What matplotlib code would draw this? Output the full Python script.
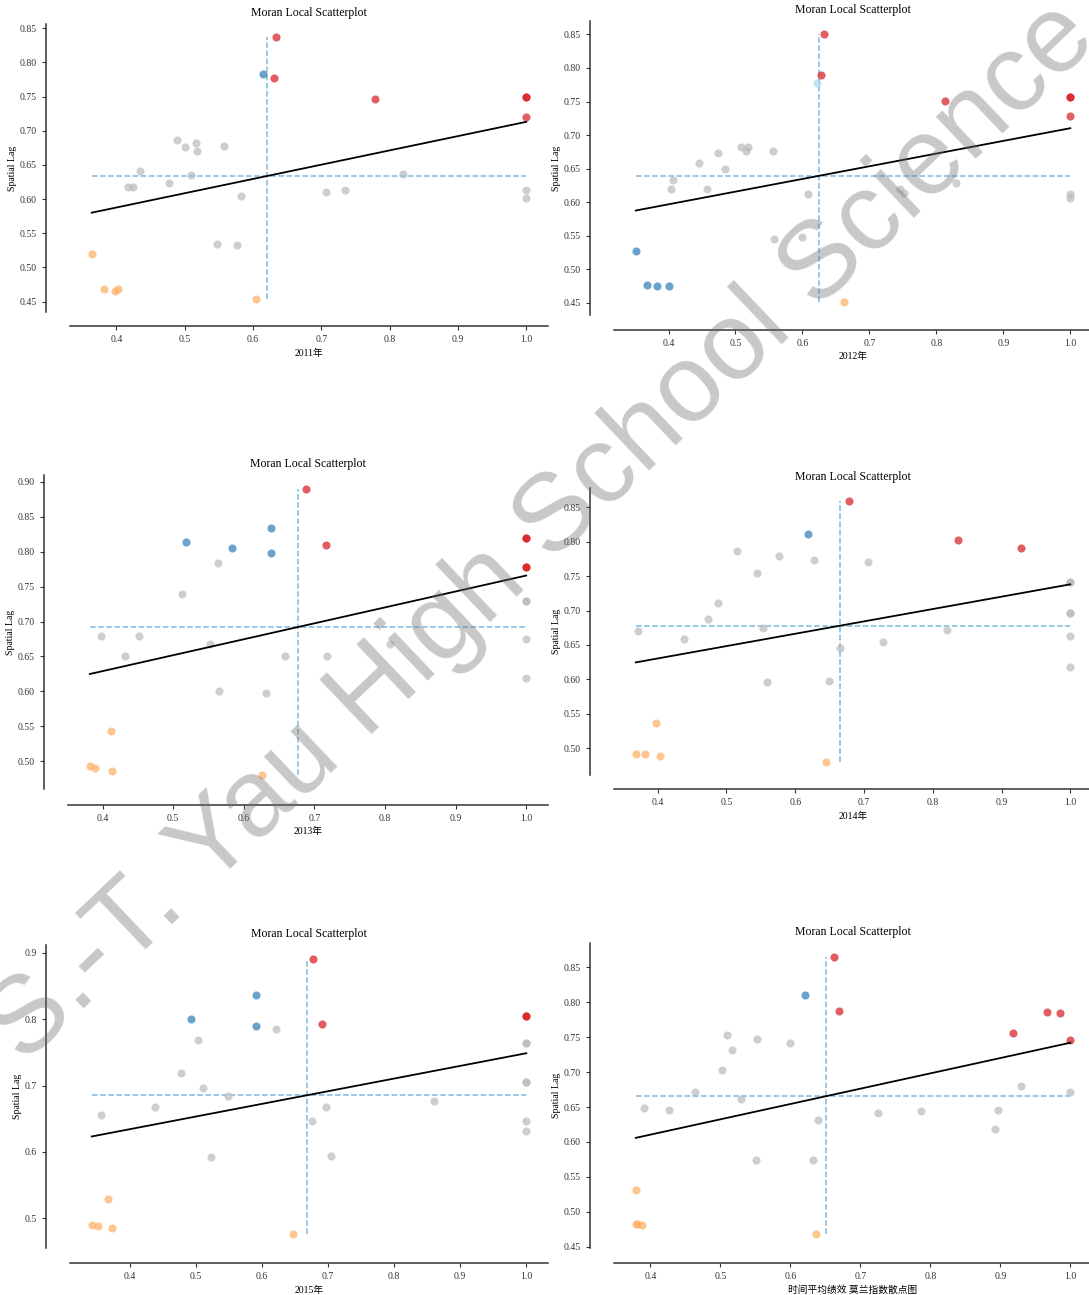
import numpy as np
import matplotlib
matplotlib.use("Agg")
import matplotlib.pyplot as plt
from matplotlib.ticker import MultipleLocator

plt.rcParams["font.family"] = ["Liberation Serif", "Noto Sans CJK SC"]

W, H = 1089, 1295

x_2011 = [0.489, 0.500, 0.517, 0.518, 0.558, 0.435, 0.417, 0.424, 0.477, 0.509, 0.583, 0.548,
          0.576, 0.707, 0.734, 0.820, 1.0, 1.0,
          0.634, 0.631, 0.778, 1.0, 1.0, 1.0,
          0.615,
          0.364, 0.382, 0.398, 0.403, 0.605]
y_2011 = [0.686, 0.676, 0.682, 0.671, 0.677, 0.641, 0.618, 0.618, 0.623, 0.635, 0.605, 0.534,
          0.533, 0.610, 0.613, 0.636, 0.614, 0.601,
          0.837, 0.777, 0.747, 0.750, 0.750, 0.720,
          0.783,
          0.519, 0.469, 0.466, 0.469, 0.454]
g_2011 = ["grey"] * 18 + ["red"] * 6 + ["blue"] + ["orange"] * 5

x_2012 = [0.508, 0.518, 0.516, 0.556, 0.474, 0.446, 0.485, 0.407, 0.403, 0.458, 0.608, 0.557,
          0.599, 0.746, 0.751, 0.830, 1.0, 1.0,
          0.632, 0.627, 0.813, 1.0, 1.0, 1.0,
          0.622,
          0.351, 0.368, 0.383, 0.400,
          0.662]
y_2012 = [0.683, 0.682, 0.677, 0.677, 0.673, 0.658, 0.649, 0.633, 0.620, 0.620, 0.613, 0.546,
          0.548, 0.619, 0.614, 0.629, 0.613, 0.607,
          0.850, 0.790, 0.751, 0.756, 0.756, 0.728,
          0.778,
          0.528, 0.477, 0.475, 0.475,
          0.452]
g_2012 = ["grey"] * 18 + ["red"] * 6 + ["cyan"] + ["blue"] * 4 + ["orange"]

x_2013 = [0.563, 0.512, 0.398, 0.452, 0.432, 0.552, 0.565, 0.631, 0.659, 0.718, 0.807,
          1.0, 1.0, 1.0, 1.0,
          0.688, 0.716, 1.0, 1.0, 1.0, 1.0,
          0.518, 0.584, 0.639, 0.639,
          0.412, 0.382, 0.390, 0.413, 0.626]
y_2013 = [0.784, 0.739, 0.679, 0.679, 0.651, 0.668, 0.601, 0.598, 0.650, 0.651, 0.668,
          0.729, 0.729, 0.675, 0.619,
          0.889, 0.810, 0.820, 0.820, 0.778, 0.778,
          0.814, 0.805, 0.834, 0.798,
          0.543, 0.493, 0.491, 0.487, 0.481]
g_2013 = ["grey"] * 15 + ["red"] * 6 + ["blue"] * 4 + ["orange"] * 5

x_2014 = [0.515, 0.577, 0.628, 0.706, 0.544, 0.488, 0.473, 0.372, 0.438, 0.553, 0.665, 0.728,
          0.820, 0.559, 0.649, 1.0, 1.0, 1.0, 1.0, 1.0, 1.0,
          0.678, 0.837, 0.928,
          0.619,
          0.397, 0.368, 0.381, 0.403, 0.645]
y_2014 = [0.787, 0.779, 0.773, 0.771, 0.754, 0.711, 0.688, 0.670, 0.659, 0.675, 0.645, 0.654,
          0.671, 0.596, 0.598, 0.741, 0.741, 0.697, 0.697, 0.663, 0.618,
          0.859, 0.803, 0.791,
          0.811,
          0.536, 0.492, 0.492, 0.489, 0.480]
g_2014 = ["grey"] * 21 + ["red"] * 3 + ["blue"] + ["orange"] * 5

x_2015 = [0.621, 0.503, 0.477, 0.511, 0.548, 0.438, 0.356, 0.523, 0.697, 0.676, 0.704, 0.861,
          1.0, 1.0, 1.0, 1.0, 1.0, 1.0,
          0.677, 0.691, 1.0, 1.0,
          0.590, 0.493, 0.591,
          0.367, 0.342, 0.351, 0.372, 0.647]
y_2015 = [0.785, 0.769, 0.719, 0.697, 0.685, 0.668, 0.655, 0.592, 0.667, 0.646, 0.594, 0.676,
          0.764, 0.764, 0.706, 0.706, 0.647, 0.631,
          0.891, 0.793, 0.805, 0.805,
          0.837, 0.801, 0.789,
          0.529, 0.490, 0.488, 0.486, 0.476]
g_2015 = ["grey"] * 18 + ["red"] * 4 + ["blue"] * 3 + ["orange"] * 5

x_avg = [0.510, 0.517, 0.552, 0.600, 0.502, 0.464, 0.530, 0.391, 0.427, 0.639, 0.551, 0.632,
         0.725, 0.787, 0.897, 0.892, 0.930, 1.0,
         0.662, 0.670, 0.967, 0.986, 0.918, 1.0,
         0.621,
         0.379, 0.379, 0.381, 0.388, 0.637]
y_avg = [0.753, 0.731, 0.748, 0.742, 0.703, 0.672, 0.662, 0.649, 0.646, 0.632, 0.574, 0.574,
         0.641, 0.645, 0.646, 0.618, 0.680, 0.671,
         0.865, 0.787, 0.786, 0.784, 0.756, 0.746,
         0.810,
         0.531, 0.483, 0.482, 0.481, 0.468]
g_avg = ["grey"] * 18 + ["red"] * 6 + ["blue"] + ["orange"] * 5

x_labels = ["2011年", "2012年", "2013年", "2014年", "2015年", "时间平均绩效 莫兰指数散点图"]

# --- styling / layout ---

colour_map = {
    "grey": "#bababa",
    "red": "#d7191c",
    "blue": "#2c7bb6",
    "cyan": "#abd9e9",
    "orange": "#fdae61",
}

# axes boxes in pixels: left, top, right, bottom
boxes = [
    (70, 24, 548, 312),
    (614, 21, 1092, 315),
    (68, 475, 548, 789),
    (614, 488, 1092, 775),
    (70, 945, 548, 1248),
    (614, 943, 1092, 1248),
]
y_steps = [0.05, 0.05, 0.05, 0.05, 0.1, 0.05]

panels = [
    (x_2011, y_2011, g_2011),
    (x_2012, y_2012, g_2012),
    (x_2013, y_2013, g_2013),
    (x_2014, y_2014, g_2014),
    (x_2015, y_2015, g_2015),
    (x_avg, y_avg, g_avg),
]

fig = plt.figure(figsize=(W / 100, H / 100), dpi=100)

for i, (xs, ys, gs) in enumerate(panels):
    l, t, r, b = boxes[i]
    ax = fig.add_axes([l / W, 1 - b / H, (r - l) / W, (b - t) / H])
    x = np.array(xs)
    y = np.array(ys)
    g = np.array(gs)

    for name in ["grey", "cyan", "blue", "orange", "red"]:
        m = g == name
        if m.any():
            ax.scatter(x[m], y[m], s=34, color=colour_map[name], alpha=0.7,
                       linewidths=0, zorder=2)

    # mean lines and fitted slope
    mx, my = x.mean(), y.mean()
    ax.vlines(mx, y.min(), y.max(), colors="#7fb8de", linestyles="--", lw=1.1, zorder=1)
    ax.hlines(my, x.min(), x.max(), colors="#7fb8de", linestyles="--", lw=1.1, zorder=1)

    k, c = np.polyfit(x, y, 1)
    xx = np.array([x.min(), x.max()])
    ax.plot(xx, k * xx + c, color="k", lw=1.3, zorder=3)

    ax.spines["top"].set_visible(False)
    ax.spines["right"].set_visible(False)
    ax.spines["left"].set_position(("axes", -0.05))
    ax.spines["bottom"].set_position(("axes", -0.05))
    for s in ["left", "bottom"]:
        ax.spines[s].set_color("#333333")
        ax.spines[s].set_linewidth(1.1)

    ax.yaxis.set_major_locator(MultipleLocator(y_steps[i]))
    ax.xaxis.set_major_locator(MultipleLocator(0.1))
    ax.tick_params(labelsize=7, length=3, width=0.8, colors="#333333")

    ax.set_title("Moran Local Scatterplot", fontsize=8.5)
    ax.set_xlabel(x_labels[i], fontsize=7, labelpad=3)
    ax.set_ylabel("Spatial Lag", fontsize=7, labelpad=2)

fig.text(0.498, 0.588, "S.-T. Yau High School Science", rotation=43.6,
         fontsize=79, family="Liberation Sans", color="#6e6e6e", alpha=0.38,
         ha="center", va="center", rotation_mode="anchor", zorder=10)

fig.savefig("out.png", dpi=100)
